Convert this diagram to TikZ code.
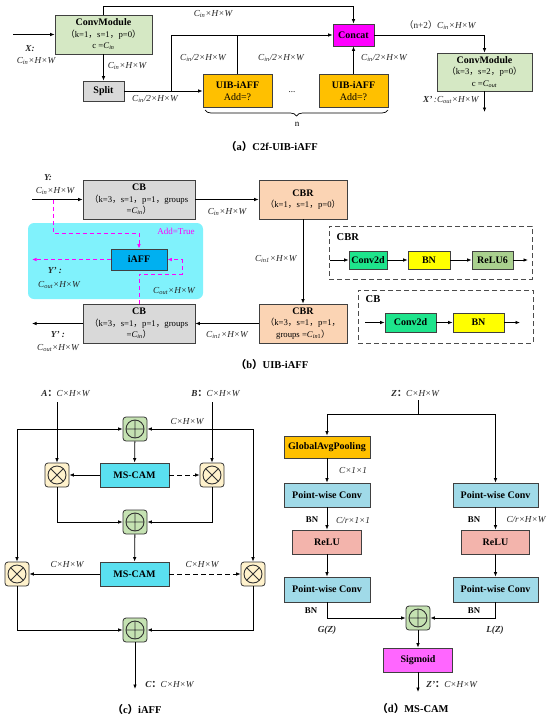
\documentclass[tikz,border=0pt]{standalone}
\usepackage{fontspec}
\setmainfont{Liberation Serif}
\newfontfamily\cjk{Noto Sans CJK SC}
\usetikzlibrary{arrows.meta,decorations.pathreplacing}
\newcommand{\zlp}{{\cjk （}}
\newcommand{\zrp}{{\cjk ）}}
\newcommand{\zcm}{{\cjk ，}}
\newcommand{\zco}{{\cjk ：}}
\newcommand{\pf}{\mdseries\fontsize{8.7}{10.5}\selectfont}
\definecolor{cmgreen}{RGB}{213,232,196}
\definecolor{splitgray}{RGB}{217,217,217}
\definecolor{uiborange}{RGB}{255,192,0}
\definecolor{concatmag}{RGB}{255,0,255}
\definecolor{cbrpeach}{RGB}{251,212,180}
\definecolor{iaffblue}{RGB}{0,176,240}
\definecolor{cyanbg}{RGB}{128,242,252}
\definecolor{convgreen}{RGB}{30,228,140}
\definecolor{bnyellow}{RGB}{255,255,0}
\definecolor{relugreen}{RGB}{169,208,142}
\definecolor{camcyan}{RGB}{90,224,240}
\definecolor{addgreen}{RGB}{197,226,178}
\definecolor{mulcream}{RGB}{255,242,204}
\definecolor{pwblue}{RGB}{160,218,232}
\definecolor{relupink}{RGB}{243,180,172}
\definecolor{sigmag}{RGB}{255,102,255}
\definecolor{linemag}{RGB}{255,0,255}
\begin{document}
\begin{tikzpicture}[x=1pt,y=-1pt,>={Latex[length=4.5pt,width=3.6pt]},line width=0.8pt,
  font=\fontsize{9}{10.5}\selectfont,
  box/.style={draw=black!75,align=center,inner sep=0pt,font=\fontsize{10}{11.5}\selectfont\bfseries},
  sz/.style 2 args={minimum width=#1pt,minimum height=#2pt},
  lbl/.style={inner sep=1pt,font=\fontsize{9.2}{10.5}\selectfont\itshape,text=black!85},
  bnlbl/.style={inner sep=1pt,font=\fontsize{8.8}{10}\selectfont\bfseries},
  captxt/.style={font=\fontsize{10.5}{12}\selectfont\bfseries},
  mg/.style={draw=linemag,line width=1pt,dash pattern=on 4pt off 3pt},
  legend/.style={draw=black!70,line width=0.9pt,dash pattern=on 5pt off 3pt},
  op/.style={draw=black!80,rounded corners=3pt,minimum size=24pt,inner sep=0pt},
  oplus/.style={op,fill=addgreen,path picture={\draw[line width=0.9pt] (path picture bounding box.center) circle[radius=9pt] ++(-9pt,0) -- ++(18pt,0) ++(-9pt,-9pt) -- ++(0,18pt);}},
  otimes/.style={op,fill=mulcream,path picture={\draw[line width=0.9pt] (path picture bounding box.center) circle[radius=9pt] ++(-6.4pt,-6.4pt) -- ++(12.8pt,12.8pt) ++(-12.8pt,0) -- ++(12.8pt,-12.8pt);}}]
\useasboundingbox (0,0) rectangle (550,720);
% (a) C2f-UIB-iAFF
\node[box,sz={97}{39},fill=cmgreen] (cm1) at (103.5,34.5) {ConvModule\\{\pf\zlp k=1\zcm s=1\zcm p=0\zrp}\\{\pf c =\textit{C}\textsubscript{\textit{in}}}};
\node[box,sz={41}{20},fill=splitgray] (split) at (103.5,91) {Split};
\node[box,sz={69}{33},fill=uiborange] (uib1) at (237.5,91) {UIB-iAFF\\{\mdseries Add=?}};
\node[box,sz={69}{33},fill=uiborange] (uib2) at (353.5,91) {UIB-iAFF\\{\mdseries Add=?}};
\node[box,sz={41}{22},fill=concatmag] (concat) at (353.5,35) {Concat};
\node[box,sz={95}{38},fill=cmgreen] (cm2) at (484.5,72) {ConvModule\\{\pf\zlp k=3\zcm s=2\zcm p=0\zrp}\\{\pf c =\textit{C}\textsubscript{\textit{out}}}};
\node (dots) at (292,92) {...};
\coordinate (xin) at (13,34.5);
\coordinate (topl) at (103.5,6);
\coordinate (br) at (171,91);
\coordinate (xout) at (484.5,112);
\draw[->] (xin) -- (cm1.west);
\draw[->] (cm1.north) -- (topl) -| (concat.north);
\draw[->] (cm1) -- (split);
\draw[->] (split) -- (uib1);
\draw[->] (br) |- (concat.west);
\draw (uib1.north) -- (uib1.north |- concat.west);
\draw[->] (uib2) -- (concat);
\draw[->] (concat.east) -| (cm2.north);
\draw[->] (cm2) -- (xout);
\draw[line width=0.7pt,decorate,decoration={brace,mirror,amplitude=6pt}] (205,110) -- (388,110);
\node (nn) at (297,124) {n};
\node[lbl] (lx1) at (30,49) {\textbf{X:}};
\node[lbl] (lx2) at (36,61) {C\textsubscript{in}×H×W};
\node[lbl] (la1) at (213,14) {C\textsubscript{in}×H×W};
\node[lbl] (la2) at (127,66) {C\textsubscript{in}×H×W};
\node[lbl] (la3) at (155,99) {C\textsubscript{in}/2×H×W};
\node[lbl] (la4) at (203,58) {C\textsubscript{in}/2×H×W};
\node[lbl] (la5) at (281,58) {C\textsubscript{in}/2×H×W};
\node[lbl] (la6) at (384,58) {C\textsubscript{in}/2×H×W};
\node[lbl] (la7) at (440,25) {{\upshape\zlp n+2\zrp}C\textsubscript{in}×H×W};
\node[lbl,anchor=east] (la8) at (480,100) {\textbf{X’}\,:C\textsubscript{out}×H×W};
\node[captxt] (capa) at (272,147) {\zlp a\zrp C2f-UIB-iAFF};
% (b) UIB-iAFF
\node[fill=cyanbg,rounded corners=6pt,sz={175}{76}] (zone) at (115.5,261) {};
\node[box,sz={112}{39},fill=splitgray] (cb1) at (139,199.5) {CB\\{\pf\zlp k=3\zcm s=1\zcm p=1\zcm groups}\\{\pf =\textit{C}\textsubscript{\textit{in}}\zrp}};
\node[box,sz={88}{39},fill=cbrpeach] (cbr1) at (303,199.5) {CBR\\{\pf\zlp k=1\zcm s=1\zcm p=0\zrp}};
\node[box,sz={88}{39},fill=cbrpeach] (cbr2) at (303,323.5) {CBR\\{\pf\zlp k=3\zcm s=1\zcm p=1\zcm}\\{\pf groups =\textit{C}\textsubscript{\textit{in}1}\zrp}};
\node[box,sz={112}{39},fill=splitgray] (cb2) at (139,323.5) {CB\\{\pf\zlp k=3\zcm s=1\zcm p=1\zcm groups}\\{\pf =\textit{C}\textsubscript{\textit{in}}\zrp}};
\node[box,sz={56}{21},fill=iaffblue] (iaff) at (139,259.5) {iAFF};
\coordinate (yin) at (32,199.5);
\coordinate (yout) at (32,323.5);
\coordinate (m1) at (53,199.5);
\coordinate (m2) at (53,233);
\coordinate (m3) at (182,274);
\coordinate (m4) at (32,259.5);
\draw[->] (yin) -- (cb1);
\draw[->] (cb1) -- (cbr1);
\draw[->] (cbr1) -- (cbr2);
\draw[->] (cbr2) -- (cb2);
\draw[->] (cb2) -- (yout);
\draw[mg,->] (m1) -- (m2) -| (iaff.north);
\draw[mg,->] (cb2.north) |- (m3) |- (iaff.east);
\draw[mg,->] (iaff) -- (m4);
\node[text=linemag] (addt) at (176,231) {Add=True};
\node[lbl] (ly1) at (48,178) {\textbf{Y:}};
\node[lbl] (ly2) at (55,191) {C\textsubscript{in}×H×W};
\node[lbl] (lb1) at (227,212) {C\textsubscript{in}×H×W};
\node[lbl,anchor=east] (lb2) at (298,259) {C\textsubscript{in1}×H×W};
\node[lbl] (lb3) at (227,335) {C\textsubscript{in1}×H×W};
\node[lbl] (ly3) at (55,271) {\textbf{Y’ :}};
\node[lbl] (ly4) at (59,285) {C\textsubscript{out}×H×W};
\node[lbl] (lb4) at (174,291) {C\textsubscript{out}×H×W};
\node[lbl] (ly5) at (58,335) {\textbf{Y’ :}};
\node[lbl] (ly6) at (58,348) {C\textsubscript{out}×H×W};
\node[legend,sz={203}{53}] (lgcbr) at (430.5,252.5) {};
\node[captxt,anchor=west] (tcbr) at (333,237) {CBR};
\node[box,sz={38}{18},fill=convgreen] (cv1) at (368,260) {Conv2d};
\node[box,sz={42}{18},fill=bnyellow] (bn1) at (429,260) {BN};
\node[box,sz={41}{18},fill=relugreen] (rl6) at (492.5,260) {ReLU6};
\coordinate (r1in) at (330,260);
\coordinate (r1out) at (528,260);
\draw[->] (r1in) -- (cv1);
\draw[->] (cv1) -- (bn1);
\draw[->] (bn1) -- (rl6);
\draw[->] (rl6) -- (r1out);
\node[legend,sz={175}{53}] (lgcb) at (445.5,316.5) {};
\node[captxt,anchor=west] (tcb) at (362,299) {CB};
\node[box,sz={51}{19},fill=convgreen] (cv2) at (410.5,322.5) {Conv2d};
\node[box,sz={51}{19},fill=bnyellow] (bn2) at (478.5,322.5) {BN};
\coordinate (r2in) at (365,322.5);
\coordinate (r2out) at (520,322.5);
\draw[->] (r2in) -- (cv2);
\draw[->] (cv2) -- (bn2);
\draw[->] (bn2) -- (r2out);
\node[captxt] (capb) at (272,365) {\zlp b\zrp UIB-iAFF};
% (c) iAFF
\node[oplus] (ad1) at (135,429) {};
\node[oplus] (ad2) at (135,522) {};
\node[oplus] (ad3) at (135,630) {};
\node[otimes] (mu1) at (57,475) {};
\node[otimes] (mu2) at (212,475) {};
\node[otimes] (mu3) at (17,574) {};
\node[otimes] (mu4) at (253,574) {};
\node[box,sz={69}{24},fill=camcyan] (cam1) at (134.5,475) {MS-CAM};
\node[box,sz={69}{24},fill=camcyan] (cam2) at (134.5,574) {MS-CAM};
\coordinate (a0) at (57,402);
\coordinate (b0) at (212,402);
\coordinate (lt) at (17,429);
\coordinate (rt) at (253,429);
\coordinate (cout) at (135,689);
\draw[->] (a0) -- (mu1);
\draw[->] (b0) -- (mu2);
\draw[->] (lt) -- (ad1);
\draw[->] (rt) -- (ad1);
\draw[->] (lt) -- (mu3);
\draw[->] (rt) -- (mu4);
\draw[->] (ad1) -- (cam1);
\draw[->] (cam1) -- (mu1);
\draw[->,dash pattern=on 5pt off 3pt] (cam1) -- (mu2);
\draw[->] (mu1) |- (ad2);
\draw[->] (mu2) |- (ad2);
\draw[->] (ad2) -- (cam2);
\draw[->] (cam2) -- (mu3);
\draw[->,dash pattern=on 5pt off 3pt] (cam2) -- (mu4);
\draw[->] (mu3) |- (ad3);
\draw[->] (mu4) |- (ad3);
\draw[->] (ad3) -- (cout);
\node[lbl,anchor=west] (lA) at (40,393) {\textbf{A\zco}C×H×W};
\node[lbl,anchor=west] (lB) at (190,393) {\textbf{B\zco}C×H×W};
\node[lbl] (lc1) at (187,422) {C×H×W};
\node[lbl] (lc2) at (67,565) {C×H×W};
\node[lbl] (lc3) at (202,565) {C×H×W};
\node[lbl,anchor=west] (lC) at (144,684) {\textbf{C\zco}C×H×W};
\node[captxt] (capc) at (137,710) {\zlp c\zrp iAFF};
% (d) MS-CAM
\node[box,sz={86}{22},fill=uiborange] (gap) at (327,447) {GlobalAvgPooling};
\node[box,sz={86}{24},fill=pwblue] (pw1) at (327,495) {Point-wise Conv};
\node[box,sz={69}{24},fill=relupink] (re1) at (327,542) {ReLU};
\node[box,sz={86}{25},fill=pwblue] (pw3) at (327,589.5) {Point-wise Conv};
\node[box,sz={85}{24},fill=pwblue] (pw2) at (495.5,495) {Point-wise Conv};
\node[box,sz={68}{24},fill=relupink] (re2) at (495.5,542) {ReLU};
\node[box,sz={85}{25},fill=pwblue] (pw4) at (495.5,589.5) {Point-wise Conv};
\node[oplus] (ad4) at (418,618) {};
\node[box,sz={69}{24},fill=sigmag] (sig) at (418,660) {Sigmoid};
\coordinate (z0) at (418,400);
\coordinate (zs) at (418,414);
\coordinate (zout) at (418,692);
\draw (z0) -- (zs);
\draw[->] (zs) -| (gap);
\draw[->] (zs) -| (pw2);
\draw[->] (gap) -- (pw1);
\draw[->] (pw1) -- (re1);
\draw[->] (re1) -- (pw3);
\draw[->] (pw2) -- (re2);
\draw[->] (re2) -- (pw4);
\draw[->] (pw3) |- (ad4);
\draw[->] (pw4) |- (ad4);
\draw[->] (ad4) -- (sig);
\draw[->] (sig) -- (zout);
\node[lbl,anchor=west] (lZ) at (390,393) {\textbf{Z\zco}C×H×W};
\node[lbl] (ld1) at (353,470) {C×1×1};
\node[bnlbl] (bn3) at (312,520) {BN};
\node[lbl] (ld2) at (353,520) {C/r×1×1};
\node[bnlbl] (bn4) at (474,520) {BN};
\node[lbl] (ld3) at (526,520) {C/r×H×W};
\node[bnlbl] (bn5) at (311,611) {BN};
\node[bnlbl] (bn6) at (474,611) {BN};
\node[lbl] (lg) at (327,630) {\textbf{G(Z)}};
\node[lbl] (ll) at (495,630) {\textbf{L(Z)}};
\node[lbl,anchor=west] (lZ2) at (425,684) {\textbf{Z’\zco}C×H×W};
\node[captxt] (capd) at (413,709) {\zlp d\zrp MS-CAM};
\end{tikzpicture}
\end{document}
